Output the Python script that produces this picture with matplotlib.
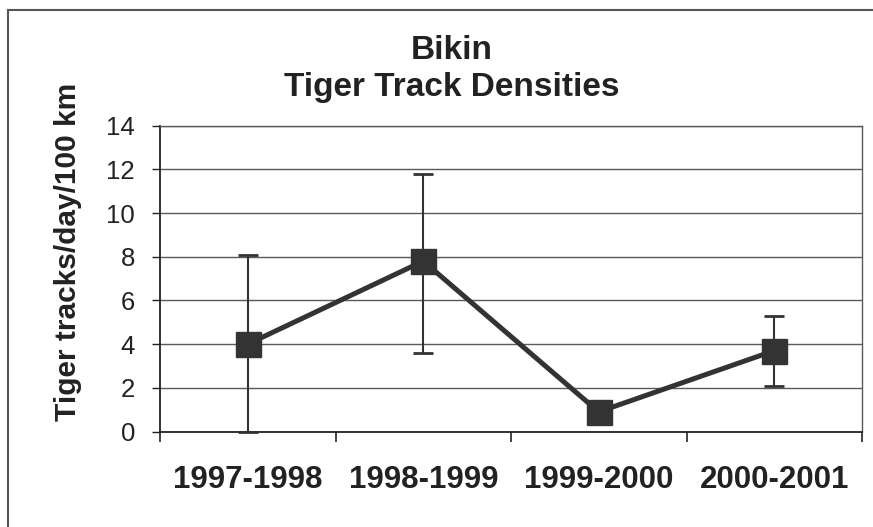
import numpy as np
import matplotlib.pyplot as plt
from matplotlib.lines import Line2D

plt.rcParams['font.family'] = ['Liberation Sans', 'DejaVu Sans']

# track densities per winter, with the low/high ends of the error bars
seasons = ["1997-1998", "1998-1999", "1999-2000", "2000-2001"]
density = [4.0, 7.8, 0.9, 3.7]
low = [0.0, 3.6, 0.9, 2.1]
high = [8.1, 11.8, 0.9, 5.3]

dark = "#333333"
grid_col = "#5a5a5a"

fig = plt.figure(figsize=(8.73, 5.27), dpi=100)
ax = fig.add_axes([0.1833, 0.1812, 0.8041, 0.5803])

x = np.arange(len(seasons))
yerr = [np.array(density) - np.array(low), np.array(high) - np.array(density)]

ax.errorbar(x, density, yerr=yerr, fmt="none", ecolor=dark, elinewidth=1.5,
            capsize=7, capthick=2, zorder=3, clip_on=False)
ax.plot(x, density, color=dark, lw=3.6, marker="s", ms=18,
        mfc=dark, mec=dark, zorder=4, clip_on=False)

ax.set_xlim(-0.5, len(seasons) - 0.5)
ax.set_ylim(0, 14)
ax.set_yticks(np.arange(0, 15, 2))
ax.yaxis.grid(True, color=grid_col, lw=1.0)
ax.set_axisbelow(True)

# category boundaries get the tick marks, labels sit between them
ax.set_xticks(np.arange(-0.5, len(seasons), 1.0))
ax.set_xticklabels([])
ax.set_xticks(x, minor=True)
ax.set_xticklabels(seasons, minor=True, fontsize=22.5, fontweight="bold", color="#222222")
ax.tick_params(axis="x", which="minor", length=0, pad=24)
ax.tick_params(axis="x", which="major", length=7, width=1.2, direction="out", color="#222222")
ax.tick_params(axis="y", length=6, width=1.0, direction="out", color="#222222",
               labelsize=18.5, pad=12, labelcolor="#222222")

for side in ["left", "bottom"]:
    ax.spines[side].set_color("#222222")
    ax.spines[side].set_linewidth(1.3)
for side in ["top", "right"]:
    ax.spines[side].set_color(grid_col)
    ax.spines[side].set_linewidth(1.0)

fig.text(68 / 873, 1 - 252 / 527, "Tiger tracks/day/100 km", rotation=90,
         ha="center", va="center", fontsize=21.5, fontweight="bold", color="#222222")

fig.text(452 / 873, 1 - 59 / 527, "Bikin", ha="center", va="baseline",
         fontsize=24, fontweight="bold", color="#222222")
fig.text(452 / 873, 1 - 96 / 527, "Tiger Track Densities", ha="center", va="baseline",
         fontsize=24, fontweight="bold", color="#222222")

# chart frame (top and left edges)
fig.add_artist(Line2D([8 / 873, 1.0], [1 - 10 / 527, 1 - 10 / 527],
                      transform=fig.transFigure, color="#555555", lw=1.5))
fig.add_artist(Line2D([8 / 873, 8 / 873], [0.0, 1 - 10 / 527],
                      transform=fig.transFigure, color="#555555", lw=1.5))

fig.savefig("out.png", dpi=100)
